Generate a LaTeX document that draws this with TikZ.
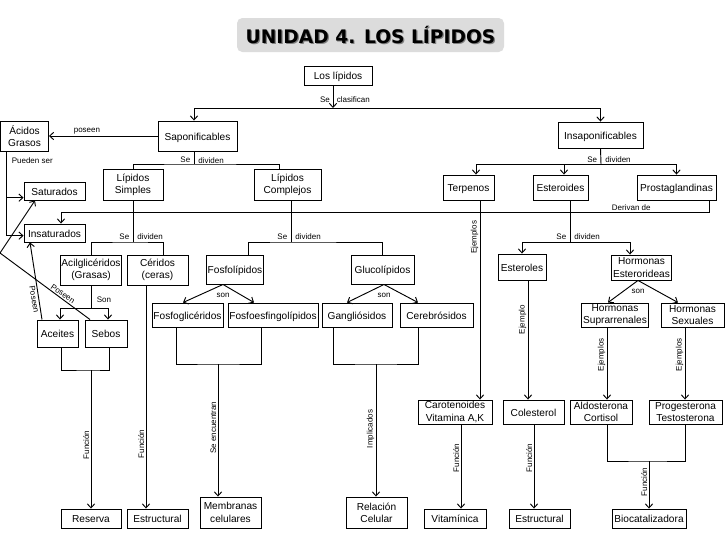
\documentclass[tikz,border=0pt]{standalone}
\usepackage{fontspec}
\setmainfont{Liberation Sans}
\newfontfamily\titlefont{DejaVu Sans}
\usetikzlibrary{arrows.meta, calc}
\definecolor{titlegray}{HTML}{DCDCDC}
\tikzset{
  caja/.style={draw, line width=0.7pt, fill=white, inner sep=1pt, align=center, font=\fontsize{7.6}{9.2}\selectfont},
  uno/.style={caja, text height=1.55ex, text depth=0.3ex},
  wh/.style 2 args={minimum width=#1*0.75pt, minimum height=#2*0.75pt},
  etiq/.style={font=\fontsize{6}{7}\selectfont, inner sep=1pt},
  vert/.style={etiq, rotate=90, anchor=south},
  linea/.style={line width=0.7pt},
  flecha/.style={linea, -{Straight Barb[length=3pt,width=5.5pt]}}
}

\begin{document}
\begin{tikzpicture}[x=0.75pt, y=-0.75pt]
\fill[white] (0,0) rectangle (728,546);
\useasboundingbox (0,0) rectangle (728,546);

% titulo
\node[fill=titlegray, rounded corners=4pt, wh={267}{34}] (titulo) at (370.5,35) {};
\node[text=gray, font=\titlefont\bfseries\fontsize{14}{16}\selectfont] at ([xshift=0.9pt,yshift=-0.9pt]titulo.center) {UNIDAD 4. LOS LÍPIDOS};
\node[font=\titlefont\bfseries\fontsize{14}{16}\selectfont] (tit) at (titulo.center) {UNIDAD 4. LOS LÍPIDOS};

% cajas
\node[uno, wh={68}{19}] (lip) at (338,75.5) {Los lípidos};
\node[uno, wh={79}{30}] (sap) at (197.5,136) {Saponificables};
\node[uno, wh={85}{26}] (insap) at (600.5,135) {Insaponificables};
\node[caja, wh={48}{30}] (acidos) at (24.5,136) {Ácidos\\Grasos};
\node[uno, wh={61}{18}] (sat) at (54.5,191) {Saturados};
\node[uno, wh={61}{18}] (insat) at (54.5,233) {Insaturados};
\node[caja, wh={60}{31}] (simp) at (133,184.5) {Lípidos\\Simples};
\node[caja, wh={67}{31}] (comp) at (287.5,184.5) {Lípidos\\Complejos};
\node[uno, wh={51}{25}] (terp) at (468.5,187.5) {Terpenos};
\node[uno, wh={55}{25}] (ester) at (560.5,187.5) {Esteroides};
\node[uno, wh={79}{25}] (prost) at (676.5,187.5) {Prostaglandinas};
\node[caja, wh={60}{30}] (acil) at (91,270) {Acilglicéridos\\(Grasas)};
\node[caja, wh={61}{30}] (cer) at (157.5,270) {Céridos\\(ceras)};
\node[uno, wh={56}{29}] (fosfo) at (235,269.5) {Fosfolípidos};
\node[uno, wh={63}{29}] (gluco) at (382.5,269.5) {Glucolípidos};
\node[uno, wh={71}{24}] (fgli) at (187.5,315) {Fosfoglicéridos};
\node[uno, wh={86}{24}] (fesf) at (273,315) {Fosfoesfingolípidos};
\node[uno, wh={70}{24}] (gang) at (357,315) {Gangliósidos};
\node[uno, wh={73}{24}] (cerb) at (436.5,315) {Cerebrósidos};
\node[uno, wh={48}{26}] (esterol) at (522,267) {Esteroles};
\node[caja, wh={57}{25}] (horm) at (641.5,267.5) {Hormonas\\Esterorideas};
\node[caja, wh={66}{24}] (supra) at (615,315) {Hormonas\\Suprarrenales};
\node[caja, wh={63}{24}] (sex) at (692.5,315) {Hormonas\\Sexuales};
\node[uno, wh={41}{27}] (aceit) at (57.5,333.5) {Aceites};
\node[uno, wh={42}{27}] (sebo) at (106,333.5) {Sebos};
\node[caja, wh={74}{24}] (carot) at (455,412) {Carotenoides\\Vitamina A,K};
\node[uno, wh={61}{24}] (coles) at (533.5,412) {Colesterol};
\node[caja, wh={62}{24}] (aldo) at (601,412) {Aldosterona\\Cortisol};
\node[caja, wh={73}{24}] (proge) at (685.5,412) {Progesterona\\Testosterona};
\node[uno, wh={60}{19}] (reserva) at (91,518.5) {Reserva};
\node[uno, wh={61}{19}] (estr1) at (157.5,518.5) {Estructural};
\node[caja, wh={61}{31}] (membr) at (230.5,512.5) {Membranas\\celulares};
\node[caja, wh={61}{31}] (relac) at (376.5,512.5) {Relación\\Celular};
\node[uno, wh={62}{19}] (vitam) at (455,518.5) {Vitamínica};
\node[uno, wh={61}{19}] (estr2) at (539.5,518.5) {Estructural};
\node[uno, wh={74}{19}] (bioc) at (649,518.5) {Biocatalizadora};

% puntos de union
\coordinate (jclas) at (333,108);
\coordinate (jsap) at (194,164);
\coordinate (jinsap) at (601,164);
\coordinate (jleft) at (0,253);
\coordinate (jderiv) at (709,212);
\coordinate (jsimp) at (133,242);
\coordinate (jcomp) at (291,242);
\coordinate (jest) at (570,242);
\coordinate (jacil) at (91,308);
\coordinate (jres) at (91,370);
\coordinate (jmem) at (218,364);
\coordinate (jrel) at (376,364);
\coordinate (jbio) at (649,461);

% clasificacion
\draw[flecha] (lip.south -| jclas) -- (jclas)
  node[etiq, pos=0.62, left=1pt] {Se} node[etiq, pos=0.62, right=1.5pt] {clasifican};
\draw[flecha] (jclas) -| (sap.north -| 194,0);
\draw[flecha] (jclas) -| (insap.north);

% saponificables
\draw[flecha] (sap.west) -- (acidos.east) node[etiq, pos=0.65, above] {poseen};
\draw[linea] (sap.south -| jsap) -- (jsap)
  node[etiq, pos=0.7, left=1.5pt] {Se} node[etiq, pos=0.7, right=2pt] {dividen};
\draw[linea] (simp.north) |- (jsap) -| (comp.north -| 279,0);
\draw[flecha] (acidos.south -| 6,0) |- ([yshift=-5pt]sat.west)
  node[etiq, pos=0.1, right=3pt] {Pueden ser};
\draw[flecha] (acidos.south -| 6,0) |- ([yshift=-2pt]insat.west);

% insaponificables
\draw[linea] (insap.south) -- (jinsap)
  node[etiq, pos=0.7, left=1.5pt] {Se} node[etiq, pos=0.7, right=2pt] {dividen};
\draw[flecha] (jinsap) -| (terp.north -| 476,0);
\draw[flecha] (jinsap) -| (ester.north -| 564,0);
\draw[flecha] (jinsap) -| (prost.north);
\draw[flecha] (prost.south -| jderiv) -- (jderiv) -| (insat.north -| 61,0)
  node[etiq, pos=0.06, above] {Derivan de};

% lipidos simples
\draw[linea] (simp.south) -- (jsimp)
  node[etiq, pos=0.88, left=1.5pt] {Se} node[etiq, pos=0.88, right=2pt] {dividen};
\draw[linea] (acil.north) |- (jsimp) -| (cer.north -| 163,0);
\draw[linea] (acil.south) -- (jacil) node[etiq, pos=0.62, right=3pt] {Son};
\draw[flecha] (jacil) -| (aceit.north -| 60,0);
\draw[flecha] (jacil) -| (sebo.north -| 108,0);
\draw[flecha] (aceit.north -| 42,0) -- (insat.south -| 30,0)
  node[etiq, pos=0.27, rotate=-80.5, anchor=north] {Poseen};
\draw[flecha] (sebo.north -| 90,0) -- node[etiq, pos=0.33, rotate=-34.6, anchor=south] {Poseen} (jleft) -- (sat.south -| 35,0);
\draw[linea] (aceit.south -| 61,0) |- (jres) -| (sebo.south -| 109,0);
\draw[flecha] (jres) -- (reserva.north) node[vert, pos=0.54] {Función};
\draw[flecha] (cer.south -| 146,0) -- (estr1.north -| 146,0) node[vert, pos=0.71] {Función};

% lipidos complejos
\draw[linea] (comp.south -| jcomp) -- (jcomp)
  node[etiq, pos=0.88, left=1.5pt] {Se} node[etiq, pos=0.88, right=2pt] {dividen};
\draw[linea] (fosfo.north -| 248,0) |- (jcomp) -| (gluco.north);
\draw[flecha] (fosfo.south -| 223,0) -- (fgli.north -| 183,0);
\draw[flecha] (fosfo.south -| 223,0) -- (fesf.north -| 254,0) node[etiq, pos=0, below=5pt] {son};
\draw[flecha] (gluco.south -| 384,0) -- (gang.north -| 347,0);
\draw[flecha] (gluco.south -| 384,0) -- (cerb.north -| 418,0) node[etiq, pos=0, below=5pt] {son};
\draw[linea] (fgli.south -| 176,0) |- (jmem) -| (fesf.south -| 261,0);
\draw[flecha] (jmem) -- (membr.north -| jmem) node[vert, pos=0.48] {Se encuentran};
\draw[linea] (gang.south -| 333,0) |- (jrel) -| (cerb.south -| 418,0);
\draw[flecha] (jrel) -- (relac.north -| jrel) node[vert, pos=0.49] {Implicados};

% terpenos
\draw[flecha] (terp.south -| 480,0) -- (carot.north -| 480,0) node[vert, pos=0.185] {Ejemplos};
\draw[flecha] (carot.south -| 461,0) -- (vitam.north -| 461,0) node[vert, pos=0.4] {Función};

% esteroides
\draw[linea] (ester.south -| jest) -- (jest)
  node[etiq, pos=0.88, left=1.5pt] {Se} node[etiq, pos=0.88, right=2pt] {dividen};
\draw[flecha] (jest) -| (esterol.north);
\draw[flecha] (jest) -| (horm.north -| 630,0);
\draw[flecha] (esterol.south -| 528,0) -- (coles.north -| 528,0) node[vert, pos=0.33] {Ejemplo};
\draw[flecha] (coles.south -| 534,0) -- (estr2.north -| 534,0) node[vert, pos=0.4] {Función};
\draw[flecha] (horm.south -| 638,0) -- (supra.north -| 608,0);
\draw[flecha] (horm.south -| 638,0) -- (sex.north -| 678,0) node[etiq, pos=0, below=5pt] {son};
\draw[flecha] (supra.south -| 607,0) -- (aldo.north -| 607,0) node[vert, pos=0.38] {Ejemplos};
\draw[flecha] (sex.south -| 685,0) -- (proge.north -| 685,0) node[vert, pos=0.38] {Ejemplos};
\draw[linea] (aldo.south -| 607,0) |- (jbio) -| (proge.south -| 685,0);
\draw[flecha] (jbio) -- (bioc.north -| jbio) node[vert, pos=0.44] {Función};
\end{tikzpicture}
\end{document}
